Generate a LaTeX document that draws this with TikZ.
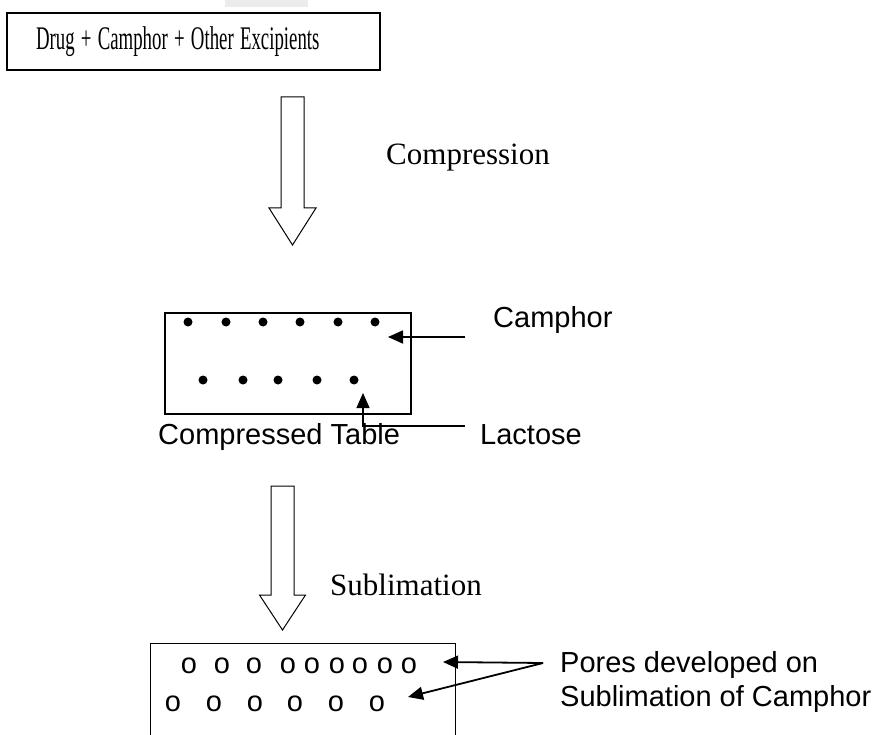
\documentclass[tikz,border=0pt]{standalone}
\usepackage{fontspec}
\setmainfont{Liberation Serif}
\setsansfont{Liberation Sans}
\usepackage{graphicx}
\usetikzlibrary{shapes,arrows.meta,positioning,calc}

\begin{document}
\begin{tikzpicture}[x=1pt, y=-1pt,
    block/.style={rectangle, draw, line width=1.2pt, inner sep=0pt},
    sidelabel/.style={font=\sffamily\fontsize{29}{34}\selectfont, anchor=west, inner sep=0pt, align=left},
    steplabel/.style={font=\fontsize{31}{36}\selectfont, anchor=west, inner sep=0pt},
    bigarrow/.style={draw, line width=1pt, line join=miter},
    arrow/.style={-{Triangle[length=15pt,width=13pt]}, line width=1.8pt},
    dot/.style={circle, fill, inner sep=0pt, minimum size=9pt},
    pore/.style={font=\sffamily\fontsize{29}{34}\selectfont, inner sep=0pt}
]
    \useasboundingbox (0,0) rectangle (880,735);
    \clip (0,0) rectangle (880,735);
    \fill[gray!15] (225,0) rectangle (308,7);

    % starting mixture
    \node[block, minimum height=57pt, text width=315pt, inner xsep=29pt, align=left, font=\fontsize{33}{36}\selectfont] (mix) at (193.5,41.5) {\scalebox{0.57}[1]{Drug + Camphor + Other Excipients}};

    \coordinate (compressTop) at (292.5,97);
    \draw[bigarrow] (compressTop) ++(-11.5,0) -- ++(23,0) -- ++(0,111) -- ++(12,0)
        -- ++(-23.5,37) -- ++(-23.5,-37) -- ++(12,0) -- cycle;
    \node[steplabel] (compLbl) at (386,158) {Compression};

    % compressed tablet
    \node[block, minimum width=246pt, minimum height=101pt] (tablet) at (288,363.5) {};
    \foreach \x [count=\i] in {188,226,263,300,338,375}
        \node[dot] (camphor\i) at (\x,322) {};
    \foreach \x [count=\i] in {203,243,278,317,354}
        \node[dot] (lactose\i) at (\x,380) {};
    \node[sidelabel] (tabletLbl) at (158,437) {Compressed Table};
    \node[sidelabel] (camphorLbl) at (493,320) {Camphor};
    \node[sidelabel] (lactoseLbl) at (480,435) {Lactose};
    \coordinate (camphorTail) at (465,337);
    \coordinate (camphorTip) at (388,337);
    \coordinate (lactoseTail) at (465,426);
    \coordinate (lactoseTip) at (363,393);
    \draw[arrow] (camphorTail) -- (camphorTip);
    \draw[arrow, line width=1.2pt] (lactoseTail) -| (lactoseTip);

    \coordinate (sublimeTop) at (282.5,486);
    \draw[bigarrow] (sublimeTop) ++(-11.5,0) -- ++(23,0) -- ++(0,109) -- ++(11.5,0)
        -- ++(-23,35) -- ++(-23,-35) -- ++(11.5,0) -- cycle;
    \node[steplabel] (sublLbl) at (330,585) {Sublimation};

    % porous tablet
    \node[block, minimum width=305pt, minimum height=120pt, anchor=north west] (porous) at (150,643) {};
    \foreach \x [count=\i] in {189,222,254,288,312,337,360,385,409}
        \node[pore] (poreA\i) at (\x,666) {o};
    \foreach \x [count=\i] in {173,214,255,295,336,377}
        \node[pore] (poreB\i) at (\x,704) {o};
    \node[sidelabel] (poresLbl) at (560,682) {Pores developed on\\Sublimation of Camphor};
    \coordinate (poresTail) at (543,663);
    \coordinate (poresTipA) at (443,662);
    \coordinate (poresTipB) at (408,697);
    \draw[arrow] (poresTail) -- (poresTipA);
    \draw[arrow] (poresTail) -- (poresTipB);
\end{tikzpicture}
\end{document}
